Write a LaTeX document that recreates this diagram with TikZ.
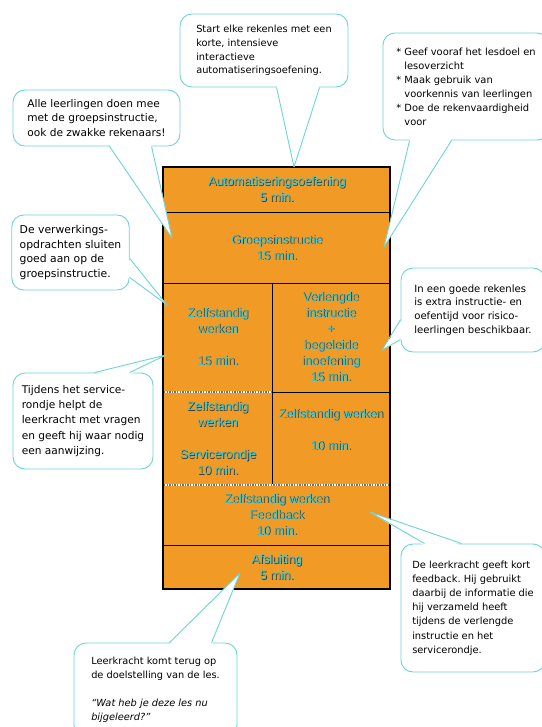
\documentclass[tikz,border=0pt]{standalone}
\usepackage{fontspec}
\setmainfont{Liberation Sans}
\newfontfamily\ballonfont{DejaVu Sans}
\usetikzlibrary{calc,positioning}
\definecolor{oranje}{RGB}{242,154,38}
\definecolor{ballonrand}{RGB}{110,212,214}
\definecolor{tekstcyaan}{RGB}{62,200,206}
\definecolor{tekstschaduw}{RGB}{50,60,60}
\frenchspacing
% cyan text with a dark shadow
\newcommand{\schaduw}[1]{{\makebox[0pt][l]{\hspace{0.8pt}\raisebox{-0.8pt}{\color{tekstschaduw}#1}}\color{tekstcyaan}#1}}
% pointer of a balloon: anchor, offset 1, offset 2, tip, inward shift
\newcommand{\wijzer}[5]{%
  \fill[white] ($(#1)+(#2)+(#5)$) -- (#4) -- ($(#1)+(#3)+(#5)$) -- cycle;
  \draw[punt] ($(#1)+(#2)$) -- (#4) -- ($(#1)+(#3)$);}
\tikzset{
  cel/.style={align=center, font=\fontsize{12.5}{16}\selectfont},
  ballon/.style 2 args={
    draw=ballonrand,
    fill=white,
    line width=0.9pt,
    rounded corners=12pt,
    align=left,
    inner xsep=8pt,
    font=\ballonfont\fontsize{#1}{#2}\selectfont},
  punt/.style={draw=ballonrand, line width=0.9pt, line join=round},
}

\begin{document}
\begin{tikzpicture}[
    x=1pt, y=-1pt,
    lijn/.style={line width=0.9pt},
    stippel/.style={line width=1.1pt, dash pattern=on 1.3pt off 1.3pt, draw=black!55}
    ]
    \useasboundingbox (0,0) rectangle (541,727);

    %lesschema
    \filldraw[fill=oranje, draw=black, line width=1.4pt] (163,167) rectangle (390,589);
    \draw[lijn] (163,212) -- (390,212);
    \draw[lijn] (163,283) -- (390,283);
    \draw[lijn] (272,283) -- (272,485);
    \draw[lijn] (272,392) -- (390,392);
    \draw[lijn] (163,545) -- (390,545);
    \draw[line width=1.1pt, white] (164,392) -- (271,392) (164,485) -- (389,485);
    \draw[stippel] (164,392) -- (271,392);
    \draw[stippel] (164,485) -- (389,485);

    %fasen
    \node[cel] (nAuto) at (277,189.5) {\schaduw{Automatiseringsoefening}\\\schaduw{5 min.}};
    \node[cel] (nGroep) at (277,248) {\schaduw{Groepsinstructie}\\\schaduw{15 min.}};
    \node[cel] (nZelf1) at (218,337) {\schaduw{Zelfstandig}\\\schaduw{werken}\\[16pt]\schaduw{15 min.}};
    \node[cel] (nVerl) at (331,337) {\schaduw{Verlengde}\\\schaduw{instructie}\\\schaduw{+}\\\schaduw{begeleide}\\\schaduw{inoefening}\\\schaduw{15 min.}};
    \node[cel] (nZelf2) at (218,438.5) {\schaduw{Zelfstandig}\\\schaduw{werken}\\[16pt]\schaduw{Servicerondje}\\\schaduw{10 min.}};
    \node[cel] (nZelf3) at (331,430) {\schaduw{Zelfstandig werken}\\[16pt]\schaduw{10 min.}};
    \node[cel] (nFeed) at (277,515) {\schaduw{Zelfstandig werken}\\\schaduw{Feedback}\\\schaduw{10 min.}};
    \node[cel] (nAfsl) at (277,567.5) {\schaduw{Afsluiting}\\\schaduw{5 min.}};

    %punten waar de ballonnen naar wijzen
    \coordinate (tStart) at (294,167);
    \coordinate (tAlle) at (172,238);
    \coordinate (tVooraf) at (384,247);
    \coordinate (tVerwerk) at (167,305);
    \coordinate (tService) at (166,355);
    \coordinate (tRisico) at (382,350);
    \coordinate (tFeedback) at (370,512);
    \coordinate (tTerug) at (240,573);

    %ballonnen
    \node[ballon={9.8}{13.7}, minimum width=168pt, minimum height=73pt] (cStart) at (264,50.5)
        {Start elke rekenles met een\\korte, intensieve\\interactieve\\automatiseringsoefening.};
    \node[ballon={10.6}{14.7}, minimum width=167pt, minimum height=56pt] (cAlle) at (96.5,118)
        {Alle leerlingen doen mee\\met de groepsinstructie,\\ook de zwakke rekenaars!};
    \node[ballon={9.9}{14}, minimum width=166pt, minimum height=107pt] (cVooraf) at (466,86.5)
        {* Geef vooraf het lesdoel en\\\hphantom{*\ }lesoverzicht\\* Maak gebruik van\\\hphantom{*\ }voorkennis van leerlingen\\* Doe de rekenvaardigheid\\\hphantom{*\ }voor};
    \node[ballon={10.8}{14.7}, minimum width=115pt, minimum height=75pt] (cVerwerk) at (70.5,252.5)
        {De verwerkings-\\opdrachten sluiten\\goed aan op de\\groepsinstructie.};
    \node[ballon={10.6}{15.2}, minimum width=140pt, minimum height=96pt] (cService) at (83,421)
        {Tijdens het service-\\rondje helpt de\\leerkracht met vragen\\en geeft hij waar nodig\\een aanwijzing.};
    \node[ballon={10.1}{13.7}, minimum width=144pt, minimum height=84pt] (cRisico) at (473,310)
        {In een goede rekenles\\is extra instructie- en\\oefentijd voor risico-\\leerlingen beschikbaar.};
    \node[ballon={9.85}{14.2}, minimum width=144pt, minimum height=128pt] (cFeedback) at (473,608)
        {De leerkracht geeft kort\\feedback. Hij gebruikt\\daarbij de informatie die\\hij verzameld heeft\\tijdens de verlengde\\instructie en het\\servicerondje.};
    \node[ballon={9.8}{14}, minimum width=163pt, minimum height=94pt] (cTerug) at (155.5,690)
        {Leerkracht komt terug op\\de doelstelling van de les.\\[14pt]\textit{“Wat heb je deze les nu}\\\textit{bijgeleerd?”}};

    %wijzers
    \wijzer{cStart.south west}{97,0}{140,0}{tStart}{0,-2}
    \wijzer{cAlle.south west}{97,0}{139,0}{tAlle}{0,-2}
    \wijzer{cVooraf.south west}{27,0}{69,0}{tVooraf}{0,-2}
    \wijzer{cVerwerk.south east}{0,-32}{0,-13}{tVerwerk}{-2,0}
    \wijzer{cService.north west}{82,0}{117,0}{tService}{0,2}
    \wijzer{cRisico.north west}{0,52}{0,72}{tRisico}{2,0}
    \wijzer{cFeedback.north west}{24,0}{61,0}{tFeedback}{0,2}
    \wijzer{cTerug.north west}{96,0}{138,0}{tTerug}{0,2}

\end{tikzpicture}
\end{document}
